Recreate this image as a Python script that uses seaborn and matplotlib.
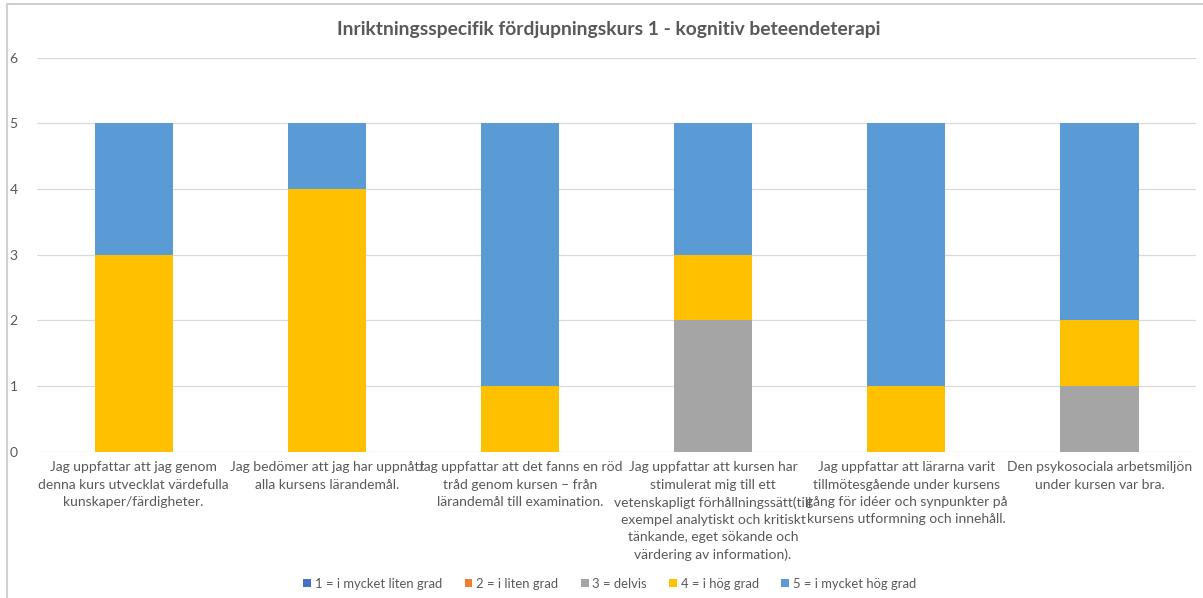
import matplotlib
matplotlib.use("Agg")
import pandas as pd
import seaborn as sns
import matplotlib.pyplot as plt
from matplotlib.patches import Patch
from matplotlib.lines import Line2D

# frågor (kategorier) och antal svar per svarsalternativ
questions = [
    "Jag uppfattar att jag genom\ndenna kurs utvecklat värdefulla\nkunskaper/färdigheter.",
    "Jag bedömer att jag har uppnått\nalla kursens lärandemål.",
    "Jag uppfattar att det fanns en röd\ntråd genom kursen – från\nlärandemål till examination.",
    "Jag uppfattar att kursen har\nstimulerat mig till ett\nvetenskapligt förhållningssätt(till\nexempel analytiskt och kritiskt\ntänkande, eget sökande och\nvärdering av information).",
    "Jag uppfattar att lärarna varit\ntillmötesgående under kursens\ngång för idéer och synpunkter på\nkursens utformning och innehåll.",
    "Den psykosociala arbetsmiljön\nunder kursen var bra.",
]
svar_1 = [0, 0, 0, 0, 0, 0]
svar_2 = [0, 0, 0, 0, 0, 0]
svar_3 = [0, 0, 0, 2, 0, 1]
svar_4 = [3, 4, 1, 1, 1, 1]
svar_5 = [2, 1, 4, 2, 4, 3]

labels = ["1 = i mycket liten grad", "2 = i liten grad", "3 = delvis",
          "4 = i hög grad", "5 = i mycket hög grad"]
colors = ["#4472C4", "#ED7D31", "#A5A5A5", "#FFC000", "#5B9BD5"]
title = "Inriktningsspecifik fördjupningskurs 1 - kognitiv beteendeterapi"

sns.set_style("white")
plt.rcParams['font.family'] = ['Lato', 'DejaVu Sans']

df = pd.DataFrame({"fraga": questions, "1": svar_1, "2": svar_2, "3": svar_3,
                   "4": svar_4, "5": svar_5})
series = ["1", "2", "3", "4", "5"]

fig = plt.figure(figsize=(12.03, 5.98), dpi=100)
ax = fig.add_axes([0.0308, 0.2446, 0.9634, 0.6592])

# staplade staplar: rita kumulativa summor uppifrån och ned
for i in range(len(series) - 1, -1, -1):
    df["cum"] = df[series[:i + 1]].sum(axis=1)
    sns.barplot(data=df, x="fraga", y="cum", color=colors[i], width=0.405,
                saturation=1, linewidth=0, ax=ax, zorder=2)

ax.set_ylim(0, 6)
ax.set_yticks(range(0, 7))
ax.set_xlim(-0.5, len(questions) - 0.5)
ax.set_xlabel("")
ax.set_ylabel("")
ax.yaxis.grid(True, color="#D9D9D9", lw=0.9, zorder=0)
ax.set_axisbelow(True)
for s in ax.spines.values():
    s.set_visible(False)
ax.tick_params(axis="y", length=0, pad=14, labelsize=10, labelcolor="#595959")
ax.tick_params(axis="x", length=0, pad=7, labelsize=10, labelcolor="#595959")
for t in ax.get_xticklabels():
    t.set_linespacing(1.52)
    t.set_verticalalignment("top")

fig.text(0.5063, 0.951, title, ha="center", va="center", fontsize=13.9,
         fontweight="bold", color="#595959")

handles = [Patch(facecolor=c, edgecolor="none") for c in colors]
fig.legend(handles, labels, loc="center", bbox_to_anchor=(0.507, 0.024), ncol=5,
           frameon=False, fontsize=9.4, labelcolor="#595959", handlelength=0.6,
           handleheight=0.6, handletextpad=0.3, columnspacing=1.7)

# ramlinjer runt diagramytan
fig.add_artist(Line2D([0.0058, 1.0], [0.9933, 0.9933], color="#D0D0D0", lw=1.5))
fig.add_artist(Line2D([0.0058, 0.0058], [0.0, 0.9933], color="#D0D0D0", lw=1.5))

fig.savefig("out.png", dpi=100)
